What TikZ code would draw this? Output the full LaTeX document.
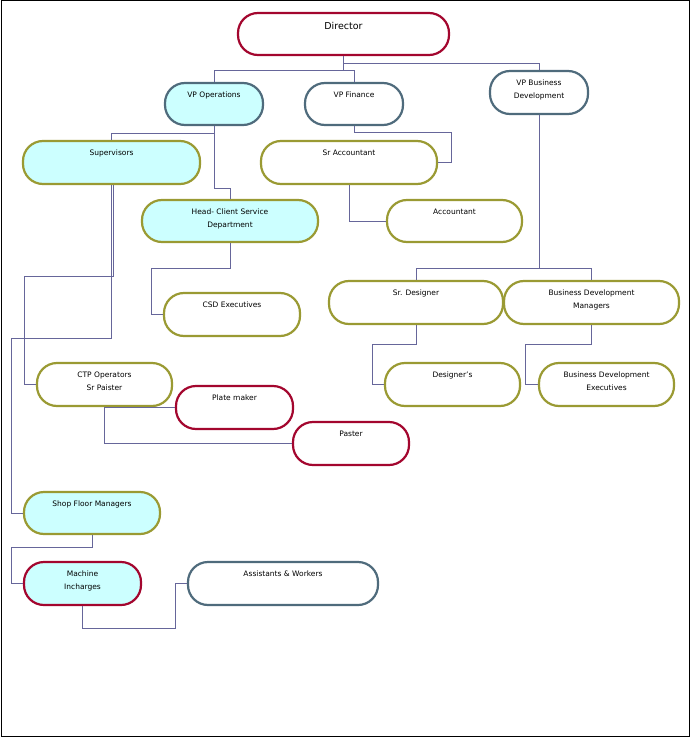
\documentclass[tikz,border=0pt]{standalone}
\usepackage{fontspec}
\setmainfont{DejaVu Sans}
\begin{document}
\begin{tikzpicture}[x=1pt,y=-1pt,
  box/.style={draw,line width=2.2pt,rounded corners=20pt,inner sep=0pt},
  cy/.style={fill=cyanf},
  wh/.style={fill=white},
  red/.style={draw=redb},
  sl/.style={draw=slateb},
  ol/.style={draw=oliveb},
  con/.style={draw=linec,line width=0.8pt}]
\definecolor{redb}{HTML}{A3062E}
\definecolor{slateb}{HTML}{4F6B7C}
\definecolor{oliveb}{HTML}{9A9A33}
\definecolor{cyanf}{HTML}{CCFFFF}
\definecolor{linec}{HTML}{66669A}
\useasboundingbox (0,0) rectangle (691,738);
\draw[line width=1pt] (1,1) rectangle (689,736);
\newcommand{\bx}[7]{%
  \node[box,#6,minimum width=#4-#2,minimum height=#5-#3,
    label={[anchor=north,yshift=-6.5pt,align=center,font=\fontsize{7.5}{12.5}\selectfont]north:#7}]
    (#1) at ({(#2+#4)/2},{(#3+#5)/2}) {};}
\bx{dir}{238}{13}{449}{55}{wh,red}{\fontsize{9.5}{12}\selectfont Director}
\bx{vpo}{165}{83}{263}{125}{cy,sl}{VP Operations}
\bx{vpf}{305}{83}{403}{125}{wh,sl}{VP Finance}
\bx{vpb}{490}{71}{588}{114}{wh,sl}{VP Business\\Development}
\bx{sup}{23}{141}{200}{184}{cy,ol}{Supervisors}
\bx{sra}{261}{141}{437}{184}{wh,ol}{Sr Accountant}
\bx{head}{142}{200}{318}{242}{cy,ol}{Head- Client Service\\Department}
\bx{acc}{387}{200}{522}{242}{wh,ol}{Accountant}
\bx{csd}{164}{293}{300}{336}{wh,ol}{CSD Executives}
\bx{srd}{329}{281}{503}{324}{wh,ol}{Sr. Designer}
\bx{bdm}{504}{281}{679}{324}{wh,ol}{Business Development\\Managers}
\bx{des}{385}{363}{520}{406}{wh,ol}{Designer's}
\bx{bde}{539}{363}{674}{406}{wh,ol}{Business Development\\Executives}
\bx{ctp}{37}{363}{172}{406}{wh,ol}{CTP Operators\\Sr Paister}
\bx{plate}{176}{386}{293}{429}{wh,red}{Plate maker}
\bx{paster}{293}{422}{409}{465}{wh,red}{Paster}
\bx{sfm}{24}{492}{160}{534}{cy,ol}{Shop Floor Managers}
\bx{mach}{24}{562}{141}{605}{cy,red}{Machine\\Incharges}
\bx{asst}{188}{562}{378}{605}{wh,sl}{Assistants \& Workers}
\begin{scope}[on background layer/.style={}]
\end{scope}
\draw[con] (dir.south) -- (dir.south |- 0,70) -| (vpo.north);
\draw[con] (dir.south |- 0,70) -| (vpf.north);
\draw[con] (dir.south |- 0,63) -| (vpb.north);
\draw[con] (vpo.south) -- (vpo.south |- 0,133) -| (sup.north);
\draw[con] (vpo.south) -- (vpo.south |- 0,188) -| (head.north);
\draw[con] (vpf.south) -- (vpf.south |- 0,132) -| ([xshift=13pt]sra.east) -- (sra.east);
\draw[con] (sra.south) |- (acc.west);
\draw[con] ([xshift=1.5pt]sup.south) |- (24,276) |- (ctp.west);
\draw[con] ([xshift=-0.5pt]sup.south) |- (11,338) |- (sfm.west);
\draw[con] (head.south) |- (151,268) |- (csd.west);
\draw[con] (ctp.south) |- (plate.west);
\draw[con] (ctp.south) |- (paster.west);
\draw[con] (sfm.south) |- (11,547) |- (mach.west);
\draw[con] (mach.south) |- (175,628) |- (asst.west);
\draw[con] (vpb.south) -- (vpb.south |- 0,268) -| (srd.north);
\draw[con] (vpb.south |- 0,268) -| (bdm.north);
\draw[con] (srd.south) |- (372,344) |- (des.west);
\draw[con] (bdm.south) |- (525,344) |- (bde.west);
\end{tikzpicture}
\end{document}
